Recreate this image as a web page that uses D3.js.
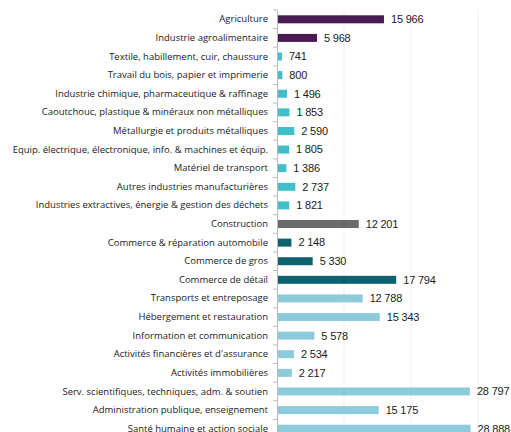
<!DOCTYPE html>
<html>
<head>
<meta charset="utf-8">
<script src="https://cdn.jsdelivr.net/npm/d3@7"></script>
<style>
  body { margin: 0; background: #fff; }
  svg { display: block; }
</style>
</head>
<body>
<svg id="chart" width="511" height="432"></svg>
<script>
// secteurs, dans l'ordre d'affichage
let categories = [
  "Agriculture",
  "Industrie agroalimentaire",
  "Textile, habillement, cuir, chaussure",
  "Travail du bois, papier et imprimerie",
  "Industrie chimique, pharmaceutique & raffinage",
  "Caoutchouc, plastique & minéraux non métalliques",
  "Métallurgie et produits métalliques",
  "Equip. électrique, électronique, info. & machines et équip.",
  "Matériel de transport",
  "Autres industries manufacturières",
  "Industries extractives, énergie & gestion des déchets",
  "Construction",
  "Commerce & réparation automobile",
  "Commerce de gros",
  "Commerce de détail",
  "Transports et entreposage",
  "Hébergement et restauration",
  "Information et communication",
  "Activités financières et d'assurance",
  "Activités immobilières",
  "Serv. scientifiques, techniques, adm. & soutien",
  "Administration publique, enseignement",
  "Santé humaine et action sociale"
];
let values = [15966, 5968, 741, 800, 1496, 1853, 2590, 1805, 1386, 2737, 1821,
  12201, 2148, 5330, 17794, 12788, 15343, 5578, 2534, 2217, 28797, 15175, 28888];
let groups = ["agri", "agri", "ind", "ind", "ind", "ind", "ind", "ind", "ind", "ind", "ind",
  "constr", "comm", "comm", "comm", "serv", "serv", "serv", "serv", "serv", "serv", "serv", "serv"];
let gridTicks = [10000, 20000, 30000];

let group_color = d3.scaleOrdinal()
  .domain(["agri", "ind", "constr", "comm", "serv"])
  .range(["#4a1a52", "#3fc0c9", "#6a6a6a", "#0d6270", "#8ccbdc"]);

let data = categories.map((c, i) => ({name: c, value: values[i], group: groups[i]}));

let svg = d3.select("#chart");
let axis_x = 277;

let x = d3.scaleLinear().domain([0, 35000]).range([axis_x, axis_x + 234.5]);
let y = d3.scaleBand().domain(categories).range([10, 438]).paddingInner(0.57).paddingOuter(0.285);

// grille verticale
svg.append("g").attr("class", "grid")
  .selectAll("line").data(gridTicks).enter().append("line")
  .attr("x1", d => x(d)).attr("x2", d => x(d))
  .attr("y1", 10).attr("y2", 432)
  .attr("stroke", "#efefef").attr("stroke-width", 1);

// barres
svg.append("g").attr("class", "bars")
  .selectAll("rect").data(data).enter().append("rect")
  .attr("x", x(0))
  .attr("y", d => y(d.name))
  .attr("width", d => x(d.value) - x(0))
  .attr("height", y.bandwidth())
  .attr("fill", d => group_color(d.group));

// valeurs
let fmt = v => d3.format(",")(v).replace(/,/g, " ");
svg.append("g").attr("class", "values")
  .selectAll("text").data(data).enter().append("text")
  .attr("x", d => x(d.value) + 7)
  .attr("y", d => y(d.name) + y.bandwidth() / 2)
  .attr("dy", "0.35em")
  .attr("font-family", "Liberation Sans, Arial, sans-serif")
  .attr("font-size", 11)
  .attr("fill", "#1a1a1a")
  .style("letter-spacing", "-0.2px")
  .text(d => fmt(d.value));

// axe des catégories
let yAxis = d3.axisLeft(y).tickSize(0).tickPadding(9);
let gy = svg.append("g").attr("transform", "translate(" + axis_x + ",0)").call(yAxis);
gy.select(".domain").attr("stroke", "#bbb");
gy.selectAll("text")
  .attr("font-family", "Open Sans, sans-serif")
  .attr("font-size", 9.5)
  .attr("fill", "#1a1a1a");

// petites graduations entre les catégories
let step = y.step();
svg.append("g").attr("class", "sep")
  .selectAll("line").data(d3.range(categories.length + 1)).enter().append("line")
  .attr("x1", axis_x - 4).attr("x2", axis_x)
  .attr("y1", i => 10 + i * step).attr("y2", i => 10 + i * step)
  .attr("stroke", "#bbb");
</script>
</body>
</html>
